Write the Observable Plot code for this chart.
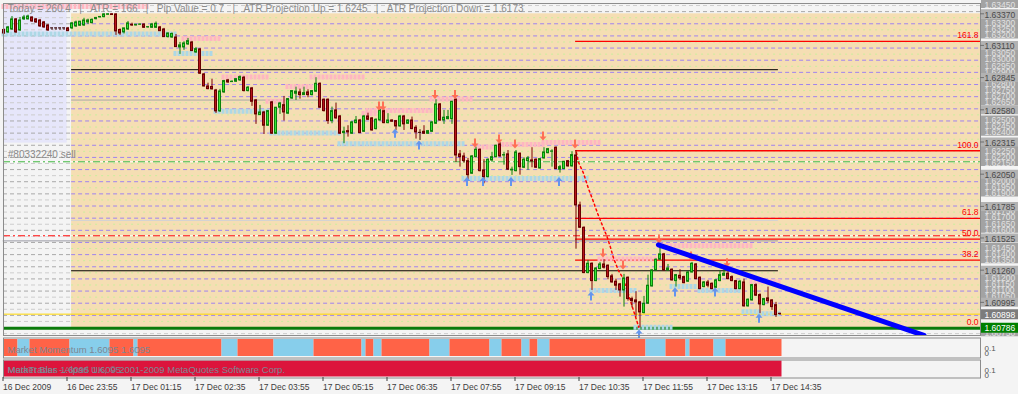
<!DOCTYPE html>
<html><head><meta charset="utf-8">
<script src="https://cdn.jsdelivr.net/npm/d3@7"></script>
<script src="https://cdn.jsdelivr.net/npm/@observablehq/plot@0.6"></script>
<style>
html,body{margin:0;padding:0;background:#f4f4f4;}
#chart{position:relative;width:1018px;height:394px;overflow:hidden;background:#f4f4f4;}
#chart svg{position:absolute;overflow:visible;}
</style></head>
<body><div id="chart"></div>
<script>
// ---------- DATA ----------
// candles: [open, high, low, close] in points (price * 1e5), 5-minute bars, bar 0 = 16 Dec 22:35
const candles = [
[163237,163245,163200,163208],[163217,163266,163208,163258],[163241,163348,163233,163324],[163324,163332,163208,163217],[163233,163340,163225,163315],
[163324,163357,163315,163340],[163324,163359,163320,163348],[163340,163344,163299,163307],[163324,163332,163291,163299],[163315,163324,163258,163266],
[163299,163307,163250,163258],[163274,163282,163225,163233],[163254,163254,163233,163254],[163254,163254,163233,163254],[163254,163254,163233,163254],
[163254,163254,163233,163254],[163250,163258,163225,163227],[163250,163299,163241,163291],[163266,163310,163258,163299],[163272,163307,163266,163305],
[163274,163332,163266,163315],[163299,163326,163282,163315],[163293,163328,163287,163320],[163326,163340,163320,163336],[163340,163348,163336,163344],
[163343,163370,163336,163365],[163362,163370,163358,163366],[163366,163370,163357,163360],[163365,163370,163192,163225],[163237,163245,163192,163208],
[163217,163250,163204,163250],[163241,163307,163233,163291],[163280,163293,163266,163274],[163274,163282,163270,163280],[163280,163287,163274,163282],
[163282,163287,163250,163255],[163258,163264,163252,163260],[163255,163291,163250,163282],[163255,163303,163250,163288],[163258,163266,163225,163227],
[163241,163250,163175,163178],[163178,163212,163171,163208],[163175,163212,163167,163204],[163175,163200,163093,163096],[163093,163134,163036,163110],
[163093,163140,163069,163126],[163118,163167,163110,163145],[163134,163143,163060,163063],[163052,163093,163044,163079],[163077,163085,162871,162877],
[162871,162879,162768,162772],[162772,162799,162745,162750],[162768,162832,162743,162748],[162739,162748,162550,162567],[162567,162748,162558,162731],
[162723,162822,162715,162816],[162822,162830,162797,162805],[162808,162818,162805,162811],[162811,162838,162805,162832],[162822,162859,162813,162849],
[162844,162855,162727,162734],[162734,162772,162727,162762],[162756,162764,162608,162646],[162657,162665,162460,162542],[162536,162616,162534,162558],
[162558,162567,162377,162449],[162449,162575,162443,162569],[162641,162649,162377,162383],[162383,162599,162377,162597],[162597,162641,162542,162632],
[162618,162690,162487,162558],[162548,162673,162542,162668],[162673,162739,162665,162734],[162712,162766,162657,162729],[162723,162750,162668,162701],
[162701,162766,162698,162717],[162723,162745,162679,162701],[162701,162739,162694,162734],[162729,162844,162723,162794],[162794,162801,162591,162597],
[162663,162669,162562,162569],[162663,162669,162460,162487],[162487,162602,162465,162569],[162575,162635,162503,162509],[162525,162534,162377,162383],
[162388,162437,162301,162399],[162404,162449,162355,162394],[162383,162484,162377,162476],[162470,162525,162465,162492],[162492,162501,162383,162388],
[162399,162534,162394,162525],[162525,162552,162492,162498],[162509,162517,162404,162410],[162421,162505,162414,162498],[162492,162583,162488,162575],
[162569,162579,162465,162470],[162470,162548,162465,162492],[162492,162498,162476,162482],[162487,162492,162410,162443],[162443,162534,162437,162525],
[162525,162534,162410,162460],[162465,162498,162460,162492],[162492,162520,162416,162421],[162432,162449,162339,162394],[162394,162416,162328,162394],
[162399,162449,162377,162383],[162383,162410,162377,162404],[162399,162482,162394,162476],[162465,162663,162460,162624],[162624,162632,162484,162492],
[162492,162575,162460,162515],[162503,162575,162498,162520],[162503,162649,162460,162646],[162663,162669,162147,162204],[162213,162245,162108,162190],
[162196,162223,162141,162157],[162157,162180,161999,162042],[162054,162204,162048,162196],[162190,162273,162184,162251],[162251,162258,162069,162075],
[162081,162169,161971,162026],[162026,162176,162019,162169],[162163,162229,162147,162190],[162190,162289,162184,162284],[162295,162311,162188,162196],
[162204,162229,162124,162207],[162213,162245,162081,162087],[162081,162108,162040,162087],[162075,162245,162069,162229],[162218,162225,162042,162108],
[162103,162185,162097,162169],[162157,162196,162081,162180],[162163,162268,162103,162155],[162169,162176,162097,162103],[162097,162180,162092,162174],
[162180,162268,162174,162229],[162223,162262,162218,162256],[162235,162251,162108,162237],[162268,162274,162087,162092],[162087,162122,162059,162108],
[162092,162155,162087,162152],[162157,162163,162108,162114],[162114,162235,162108,162207],[162204,162245,161433,161793],[161793,161820,161604,161609],
[161609,161616,161231,161236],[161236,161340,161231,161313],[161313,161320,161093,161170],[161170,161280,161165,161274],[161269,161324,161264,161307],
[161307,161346,161269,161280],[161297,161303,161181,161203],[161209,161225,161153,161159],[161165,161186,161093,161132],[161143,161151,161038,161093],
[161093,161225,160956,161192],[161198,161204,161005,161022],[161022,161038,160951,161005],[161011,161083,160874,160995],[160995,161003,160786,160912],
[160907,161044,160900,160984],[160984,161219,160978,161132],[161126,161264,161121,161258],[161258,161353,161252,161346],[161346,161472,161340,161390],
[161390,161398,161252,161258],[161258,161307,161252,161274],[161264,161270,161170,161176],[161170,161225,161121,161219],[161214,161264,161176,161192],
[161203,161211,161148,161153],[161165,161250,161159,161241],[161241,161324,161236,161313],[161307,161315,161181,161186],[161198,161204,161099,161104],
[161121,161167,161115,161159],[161159,161176,161115,161132],[161148,161155,161099,161104],[161115,161184,161110,161176],[161170,161252,161165,161219],
[161214,161269,161209,161231],[161231,161264,161181,161186],[161203,161213,161165,161170],[161170,161176,161099,161104],[161104,161176,161099,161165],
[161159,161186,160956,160962],[160962,161023,160956,161017],[161011,161143,161005,161137],[161137,161147,161044,161050],[161055,161065,160902,160978],
[160972,161028,160967,161022],[161028,161121,160984,161005],[161011,161017,160929,160956],[160972,160995,160871,160890],[160901,160905,160888,160898]
];

// x-axis tick bars and labels
const timeTickBars = [0,16,32,48,64,80,96,112,128,144,160,176,192];
const timeLabels = ["16 Dec 2009","16 Dec 23:55","17 Dec 01:15","17 Dec 02:35","17 Dec 03:55","17 Dec 05:15","17 Dec 06:35","17 Dec 07:55","17 Dec 09:15","17 Dec 10:35","17 Dec 11:55","17 Dec 13:15","17 Dec 14:35"];

// right price axis labels
const majorPriceLabels = [1.6337,1.6311,1.62845,1.6258,1.62315,1.6205,1.61785,1.61525,1.6126,1.60995];
const minorPriceLabels = [1.6345,1.633,1.6325,1.632,1.6305,1.63,1.6295,1.629,1.628,1.6275,1.627,1.6265,1.625,1.6245,1.624,1.6225,1.622,1.6215,1.62,1.6195,1.619,1.6175,1.617,1.6165,1.616,1.6145,1.614,1.6135,1.612,1.6115,1.611,1.6105,1.6075];
const bidPrice = 1.60898;
const dayHigh = 1.6337, dayLow = 1.60786;
const dayStartBar = 16.9;
const prevDayBoxLow = 1.62306, prevDayBoxEnd = 15.8;

// header / annotation texts
const headerItems = ["Today = 260.4","ATR = 166","Pip Value = 0.7","ATR Projection Up = 1.6245","ATR Projection Down = 1.6173"];
const orderLabel = "#80332240 sell";
const orderPrice = 1.62152, stopPrice = 1.61543;

// session levels: [price, fromBar, toBar, color]
const sessionLevels = [
  [1.62910, 16.9, 193.6, "#000000"],
  [1.62660, 16.9, 193.6, "#a9a9a9"],
  [1.61669, 16.9, 193.6, "#d3d3d3"],
  [1.61501, -0.2, 193.6, "#9a9aa6"],
  [1.61255, 16.9, 193.6, "#000000"]
];

// fibonacci levels
const fibLabels = ["161.8","100.0","61.8","50.0","38.2","0.0"];
const fibPrices = [1.63143,1.62243,1.61686,1.61515,1.61343,1.60786];
const fibStartBar = 142.9;

// resistance (pink) and support (blue) zones: [fromBar, toBar, price]
const resistanceZones = [
  [0,36,1.63431],[45,54,1.63167],[55,66,1.62849],[66,71,1.62651],[71,77,1.62772],[77,90,1.62849],
  [90,93,1.62550],[91,107,1.62575],[107,117,1.62669],[118,123,1.62273],[124,135,1.62295],[135,149,1.62311],
  [149,163,1.61351],[164,187,1.61461],[187,194,1.61165]
];
const supportZones = [
  [0,43,1.63203],[43,52,1.63044],[53,66,1.62569],[67,84,1.62388],[84,115,1.62301],[115,146,1.62015],
  [147,158,1.61093],[158,167,1.60791],[167,173,1.61126],[174,184,1.61093],[185,189,1.60918],[189,194,1.60902]
];

// signal arrows: [bar, tip price]
const sellArrows = [[94,1.62575],[95,1.62575],[108,1.62669],[113,1.62669],[118,1.62270],[124,1.62303],[128,1.62262],[135,1.62328],[143,1.62262],[150,1.61365],[155,1.61266],[164,1.61480],[172,1.61340],[181,1.61285]];
const buyArrows = [[98,1.62424],[104,1.62328],[116,1.62026],[120,1.62026],[127,1.62026],[139,1.62026],[147,1.61085],[159,1.60772],[168,1.61118],[178,1.61118],[189,1.60902]];

// trend line and projection curve: [bar, price]
const trendLine = [[163.6,1.61469],[230,1.60723]];
const projectionCurve = [[143.1,1.62229],[143.6,1.62149],[144.9,1.62056],[146.1,1.61933],[147.4,1.61820],[148.4,1.61727],[149.6,1.61628],[150.8,1.61532],[151.6,1.61450],[152.4,1.61357],[153.6,1.61258],[154.6,1.61203],[155.8,1.61093],[157.1,1.60956],[157.9,1.60874],[158.7,1.60791]];

// momentum runs: [fromBar, toBar, state] 1 = up (blue), 0 = down (red)
const momentumRuns = [[0,3,0],[4,6,1],[7,16,0],[17,26,1],[27,32,0],[33,33,1],[34,54,0],[55,58,1],[59,67,0],[68,77,1],[78,89,0],[90,90,1],[91,92,0],[93,94,1],[95,106,0],[107,111,1],[112,121,0],[122,124,1],[125,129,0],[130,131,1],[132,133,0],[134,136,1],[137,160,0],[161,165,1],[166,170,0],[171,171,1],[172,177,0],[178,180,1],[181,194,0]];
const biasRuns = [[0,194]];
const momentumText = "Market Momentum 1.6095 1.6095";
const biasTexts = ["MetaTrader - Alpari UK, \u00a9 2001-2009 MetaQuotes Software Corp.", "Market Bias 1.6095 1.6095"];

// ---------- RENDER ----------
const W = 1018;
const FONT = "Liberation Sans, Arial, sans-serif";
const xDomain = [-0.125, 244.125];
const yDomain = [1.607223, 1.634548];
const root = document.getElementById("chart");
function place(svg, top, left) { svg.style.top = top + "px"; svg.style.left = (left || 0) + "px"; root.appendChild(svg); }

const bars = candles.map(([o,h,l,c], i) => ({i, o:o/1e5, h:h/1e5, l:l/1e5, c:c/1e5}));
const doji = bars.filter(d => d.o === d.c);
const bodies = bars.filter(d => d.o !== d.c);
const BULL_F = "#33e433", BULL_S = "#0b820b", BEAR_F = "#b5141c", BEAR_S = "#6a0000", DOJI = "#3a0505";
const wickColor = d => d.o === d.c ? DOJI : (d.c > d.o ? BULL_S : "#7d0000");

const gridLevels = d3.range(0, 55).map(k => ({p: +(1.63438 - 0.0005 * k).toFixed(5), dark: k % 2 === 1}));
const wheatPurple = gridLevels.filter(g => g.dark && g.p < dayHigh && g.p > dayLow);
const wheatGreen = gridLevels.filter(g => !g.dark && g.p < dayHigh && g.p > dayLow);

const arrowDown = {draw(ctx) { ctx.moveTo(-1,-9); ctx.lineTo(1,-9); ctx.lineTo(1,-4); ctx.lineTo(3.5,-4); ctx.lineTo(0,0); ctx.lineTo(-3.5,-4); ctx.lineTo(-1,-4); ctx.closePath(); }};
const arrowUp = {draw(ctx) { ctx.moveTo(-1,9); ctx.lineTo(1,9); ctx.lineTo(1,4); ctx.lineTo(3.5,4); ctx.lineTo(0,0); ctx.lineTo(-3.5,4); ctx.lineTo(-1,4); ctx.closePath(); }};

const header = headerItems.join("\u00a0\u00a0\u00a0|\u00a0\u00a0\u00a0");

const main = Plot.plot({
  width: W, height: 338, marginTop: 3, marginBottom: 3, marginLeft: 3, marginRight: 38,
  x: {domain: xDomain, axis: null},
  y: {domain: yDomain, axis: null},
  style: {background: "transparent", fontFamily: FONT, overflow: "visible"},
  marks: [
    Plot.frame({fill: "#f4f4f4"}),
    Plot.rect([0], {x1: xDomain[0], x2: prevDayBoxEnd, y1: prevDayBoxLow, y2: yDomain[1], fill: "#e6e6fa"}),
    Plot.ruleY(gridLevels, {y: "p", stroke: d => d.dark ? "#a9a9a9" : "#cdcdcd", strokeDasharray: "4,3"}),
    Plot.rect([0], {x1: dayStartBar, x2: xDomain[1], y1: dayLow, y2: dayHigh, fill: "#f5deb3"}),
    Plot.ruleY(wheatGreen, {y: "p", x1: dayStartBar, x2: xDomain[1], stroke: "#c9ef9c", strokeDasharray: "2,4"}),
    Plot.ruleY(wheatPurple, {y: "p", x1: dayStartBar, x2: xDomain[1], stroke: "#a083ee", strokeDasharray: "4,3"}),
    Plot.ruleY(sessionLevels, {y: d => d[0], x1: d => d[1], x2: d => d[2], stroke: d => d[3]}),
    Plot.ruleY([orderPrice, stopPrice], {stroke: "#ffffff"}),
    Plot.ruleY([orderPrice], {stroke: "#3cb43c", strokeDasharray: "7,3,2,3"}),
    Plot.ruleY([stopPrice], {stroke: "#ff0000", strokeDasharray: "7,3,2,3"}),
    Plot.ruleY(fibPrices, {x1: fibStartBar, x2: xDomain[1], stroke: "#ff0000", strokeWidth: 1.3}),
    Plot.ruleY([bidPrice], {stroke: "#ffd700"}),
    Plot.ruleY([dayLow - 0.00004], {stroke: "#0a7a0a", strokeWidth: 3}),
    Plot.text(fibPrices, {y: d => d, text: (d, i) => fibLabels[i], frameAnchor: "right", dx: -2, dy: -3, textAnchor: "end", lineAnchor: "bottom", fill: "#ff0000", fontSize: 8.5}),
    Plot.ruleY(resistanceZones, {y: d => d[2], x1: d => d[0] - 0.5, x2: d => d[1] + 0.5, stroke: "#ffb6c1", strokeWidth: 5, strokeDasharray: "3,1"}),
    Plot.ruleY(supportZones, {y: d => d[2], x1: d => d[0] - 0.5, x2: d => d[1] + 0.5, stroke: "#add8e6", strokeWidth: 5, strokeDasharray: "3,1"}),
    Plot.line(projectionCurve, {x: d => d[0], y: d => d[1], stroke: "#ff0000", strokeWidth: 1.5, strokeDasharray: "2,3"}),
    Plot.ruleX(bars, {x: "i", y1: "l", y2: "h", stroke: wickColor}),
    Plot.rect(bodies, {x1: d => d.i - 0.25, x2: d => d.i + 0.25, y1: d => Math.min(d.o, d.c), y2: d => Math.max(d.o, d.c),
      fill: d => d.c > d.o ? BULL_F : BEAR_F, stroke: d => d.c > d.o ? BULL_S : BEAR_S}),
    Plot.ruleY(doji, {y: "c", x1: d => d.i - 0.375, x2: d => d.i + 0.375, stroke: DOJI}),
    Plot.dot(sellArrows, {x: d => d[0], y: d => d[1], symbol: arrowDown, fill: "#ff6f55", stroke: "none", dx: -1}),
    Plot.dot(buyArrows, {x: d => d[0], y: d => d[1], symbol: arrowUp, fill: "#6495ed", stroke: "none", dx: -1}),
    Plot.line(trendLine, {x: d => d[0], y: d => d[1], stroke: "#0000ff", strokeWidth: 5, clip: true}),
    Plot.text([header], {frameAnchor: "top-left", dx: 4.3, dy: 8, lineAnchor: "bottom", fill: "#8c8c8c", fontSize: 10}),
    Plot.text([orderLabel], {y: orderPrice, frameAnchor: "left", dx: 4.3, dy: -4, lineAnchor: "bottom", textAnchor: "start", fill: "#8a8a8a", fontSize: 10}),
    Plot.frame({stroke: "#8c8c8c"})
  ]
});
place(main, 0, 0);

// right price axis
const axis = Plot.plot({
  width: 38, height: 338, marginTop: 3, marginBottom: 3, marginLeft: 0, marginRight: 0,
  x: {domain: [0, 38], axis: null},
  y: {domain: yDomain, axis: null},
  style: {background: "transparent", fontFamily: FONT, overflow: "visible"},
  marks: [
    Plot.ruleY(minorPriceLabels, {x1: 1, x2: 38, stroke: "#a3a3a3", strokeWidth: 8}),
    Plot.text(minorPriceLabels, {y: d => d, text: d => d.toFixed(5), frameAnchor: "left", dx: 4, dy: 1, textAnchor: "start", fill: "#e2e2e2", fontSize: 8.5}),
    Plot.ruleY(majorPriceLabels, {x1: 1, x2: 38, stroke: "#b2b2b2", strokeWidth: 9}),
    Plot.text(majorPriceLabels, {y: d => d, text: d => d.toFixed(5), frameAnchor: "left", dx: 4, dy: 1, textAnchor: "start", fill: "#4a4a4a", fontSize: 8.5}),
    Plot.ruleY(majorPriceLabels, {x1: 0, x2: 4, stroke: "#707070"}),
    Plot.ruleY([bidPrice], {x1: 1, x2: 38, stroke: "#7c7c7c", strokeWidth: 10}),
    Plot.text([bidPrice], {y: d => d, text: d => d.toFixed(5), frameAnchor: "left", dx: 4, dy: 1, textAnchor: "start", fill: "#ffffff", fontSize: 8.5}),
    Plot.ruleY([dayLow], {x1: 1, x2: 38, stroke: "#008000", strokeWidth: 10}),
    Plot.text([dayLow], {y: d => d, text: d => d.toFixed(5), frameAnchor: "left", dx: 4, dy: 1, textAnchor: "start", fill: "#ffffff", fontSize: 8.5})
  ]
});
place(axis, 0, 980);

// indicator panels
function panel(runs, colorOf, texts, top, height, inset) {
  const p = Plot.plot({
    width: W, height, marginTop: 0.5, marginBottom: 0.5, marginLeft: 3, marginRight: 38,
    x: {domain: xDomain, axis: null},
    y: {domain: [0, 1], axis: null},
    style: {background: "transparent", fontFamily: FONT, overflow: "visible"},
    marks: [
      Plot.frame({fill: "#f4f4f4"}),
      Plot.rect(runs, {x1: d => d[0] - 0.5, x2: d => d[1] + 0.5, y1: 0, y2: 1, insetTop: inset, insetBottom: inset, fill: colorOf, clip: true}),
      ...texts.map(t => Plot.text([t], {frameAnchor: "top-left", dx: 4, dy: height - 6, lineAnchor: "bottom", fill: "#7d8794", fontSize: 9.5})),
      Plot.text(["0.1"], {frameAnchor: "top-right", dx: 4, dy: 12.5, lineAnchor: "bottom", textAnchor: "start", fill: "#555", fontSize: 8}),
      Plot.text(["0"], {frameAnchor: "top-right", dx: 4, dy: 18, lineAnchor: "bottom", textAnchor: "start", fill: "#555", fontSize: 8}),
      Plot.frame({stroke: "#8c8c8c"})
    ]
  });
  place(p, top, 0);
}
panel(momentumRuns, d => d[2] ? "#87ceeb" : "#ff6347", [momentumText], 337, 21, 1.5);
panel(biasRuns, () => "#dc143c", biasTexts, 358.5, 19, 1);

// time axis
const tickLabel = new Map(timeTickBars.map((b, i) => [b, timeLabels[i]]));
const tax = Plot.plot({
  width: W, height: 17, marginTop: 0, marginBottom: 16, marginLeft: 3, marginRight: 38,
  x: {domain: xDomain},
  style: {background: "transparent", fontFamily: FONT, overflow: "visible", color: "#3c3c3c"},
  marks: [
    Plot.axisX(timeTickBars, {anchor: "bottom", tickSize: 4, tickPadding: 2, tickFormat: d => tickLabel.get(d), textAnchor: "start", dx: -1, fontSize: 8.5, label: null})
  ]
});
place(tax, 376, 0);
</script>
</body></html>
